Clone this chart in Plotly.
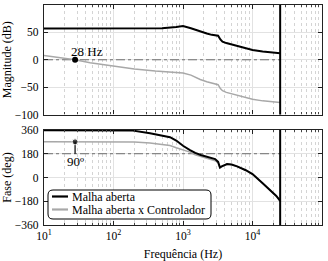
import math
import plotly.graph_objects as go

# ---------------- data ----------------
MAG_FREQ_OL = [10, 100, 300, 500, 800, 1000, 1300, 1770, 2200, 2600, 3000, 3200, 3450, 3700,
               4200, 5300, 7000, 10000, 14000, 20000, 25000]
MAG_OL = [57, 57, 57, 57.5, 60, 61.5, 57.5, 51.5, 48, 45.5, 44.5, 44, 37, 33,
          30.5, 27, 23, 18, 15, 12.5, 12]

MAG_FREQ_CTRL = [10, 20, 28, 46, 100, 200, 400, 700, 1000, 1300, 1770, 2200, 2600, 3000, 3200,
                 3450, 3700, 4200, 5300, 7000, 10000, 14000, 20000, 25000]
MAG_CTRL = [8, 3, 0, -5.5, -12, -17, -20.5, -22.5, -24, -28, -36, -40, -43, -44.5, -45.5,
            -52.5, -56.5, -59.5, -63, -67, -72, -75, -77.5, -78]

PH_FREQ_OL = [10, 100, 190, 335, 500, 650, 800, 1000, 1260, 1500, 1800, 2200, 2900, 3200,
              3400, 3600, 4300, 5000, 6000, 8000, 10000, 14000, 18000, 22000, 25000]
PH_OL = [358, 358, 355, 335, 320, 305, 280, 240, 208, 186, 170, 158, 139, 118,
         76, 84, 102, 98, 84, 55, 26, -44, -95, -140, -178]

PH_FREQ_CTRL = [10, 100, 200, 335, 500, 650, 800, 1000, 1260, 1500, 1800, 2200, 2900, 3200,
                3400, 3600, 4300, 5000, 6000, 8000, 10000, 14000, 18000, 22000, 25000]
PH_CTRL = [270, 269.5, 268, 262, 252, 242, 225, 210, 192, 172, 160, 148, 127, 112,
           72, 81, 100, 97, 84, 55, 26, -44, -95, -140, -178]

REF_FREQ = [10, 25000]
REF_MAG = [0, 0]
REF_PH = [180, 180]
NYQ = 25000
CROSS_FREQ = 28
CROSS_MAG = 0
PM_FREQ = [28, 28]
PM_PH = [180, 270]

NAMES = ["Malha aberta", "Malha aberta x Controlador"]
X_TICKS = [10, 100, 1000, 10000, 100000]
X_TICKTEXT = ["10<sup>1</sup>", "10<sup>2</sup>", "10<sup>3</sup>", "10<sup>4</sup>", "10<sup>5</sup>"]
MAG_TICKS = [-100, -50, 0, 50, 100]
PH_TICKS = [-360, -180, 0, 180, 360]

# ---------------- figure ----------------
FONT = "Liberation Serif"
BLACK = "#000000"
GRAY = "#a8a8a8"
REF = "#6e6e6e"

fig = go.Figure()

# magnitude
fig.add_trace(go.Scatter(x=REF_FREQ, y=REF_MAG, mode="lines", line=dict(color=REF, width=1, dash="dashdot"),
                         showlegend=False, hoverinfo="skip", xaxis="x", yaxis="y"))
fig.add_trace(go.Scatter(x=MAG_FREQ_CTRL, y=MAG_CTRL, mode="lines", name=NAMES[1], line=dict(color=GRAY, width=1.5),
                         showlegend=False, xaxis="x", yaxis="y"))
fig.add_trace(go.Scatter(x=MAG_FREQ_OL, y=MAG_OL, mode="lines", name=NAMES[0], line=dict(color=BLACK, width=2),
                         showlegend=False, xaxis="x", yaxis="y"))
fig.add_trace(go.Scatter(x=[CROSS_FREQ], y=[CROSS_MAG], mode="markers", marker=dict(color=BLACK, size=6),
                         showlegend=False, xaxis="x", yaxis="y"))

# phase
fig.add_trace(go.Scatter(x=REF_FREQ, y=REF_PH, mode="lines", line=dict(color=REF, width=1, dash="dashdot"),
                         showlegend=False, hoverinfo="skip", xaxis="x2", yaxis="y2"))
fig.add_trace(go.Scatter(x=PH_FREQ_CTRL, y=PH_CTRL, mode="lines", name=NAMES[1], line=dict(color=GRAY, width=1.5),
                         showlegend=False, xaxis="x2", yaxis="y2"))
fig.add_trace(go.Scatter(x=PH_FREQ_OL, y=PH_OL, mode="lines", name=NAMES[0], line=dict(color=BLACK, width=2),
                         showlegend=False, xaxis="x2", yaxis="y2"))
fig.add_trace(go.Scatter(x=PM_FREQ, y=PM_PH, mode="lines+markers", line=dict(color=BLACK, width=1.2),
                         marker=dict(color=BLACK, size=[0, 6]), showlegend=False, xaxis="x2", yaxis="y2"))

# Nyquist vertical line in both panels
for xr, yr in [("x", "y domain"), ("x2", "y2 domain")]:
    fig.add_shape(type="line", xref=xr, yref=yr, x0=NYQ, x1=NYQ, y0=0, y1=1,
                  line=dict(color=BLACK, width=2))

MINOR_VALS = [m * 10 ** k for k in range(1, 5) for m in range(2, 10)]

def xaxis_common():
    return dict(type="log", range=[1, 5], showline=True, linecolor="#222", linewidth=1.3, mirror="ticks",
                ticks="inside", ticklen=4, tickcolor="#222", tickmode="array", tickvals=X_TICKS,
                showgrid=True, gridcolor="#e2e2e2", gridwidth=1, zeroline=False, automargin=False,
                minor=dict(tickmode="array", tickvals=MINOR_VALS, ticks="inside", ticklen=2, tickcolor="#444",
                           showgrid=True, gridcolor="#d4d4d4", griddash="dot", gridwidth=1),
                tickfont=dict(family=FONT, size=11.5, color=BLACK))

def yaxis_common():
    return dict(showline=True, linecolor="#222", linewidth=1.3, mirror="ticks", ticks="inside", ticklen=4,
                tickcolor="#222", showgrid=True, gridcolor="#e2e2e2", zeroline=False, tickmode="array",
                automargin=False, tickfont=dict(family=FONT, size=11.5, color=BLACK), ticklabelstandoff=2)

xa = xaxis_common()
xa.update(anchor="y", domain=[0, 1], showticklabels=False)
xa2 = xaxis_common()
xa2.update(anchor="y2", domain=[0, 1], ticktext=X_TICKTEXT, matches="x",
           title=dict(text="Frequência (Hz)", font=dict(family=FONT, size=12, color=BLACK)))
ya = yaxis_common()
ya.update(domain=[0.502, 1], range=[-100, 100], tickvals=MAG_TICKS, anchor="x",
          title=dict(text="Magnitude (dB)", font=dict(family=FONT, size=12, color=BLACK)))
ya2 = yaxis_common()
ya2.update(domain=[0, 0.432], range=[-360, 360], tickvals=PH_TICKS, anchor="x2",
           title=dict(text="Fase (deg)", font=dict(family=FONT, size=12, color=BLACK)))

fig.update_layout(
    width=328, height=261, margin=dict(l=44, r=6, t=5, b=36, autoexpand=False),
    paper_bgcolor="white", plot_bgcolor="white",
    xaxis=xa, xaxis2=xa2, yaxis=ya, yaxis2=ya2,
    showlegend=False,
    font=dict(family=FONT, size=12, color=BLACK),
)

# annotations
fig.add_annotation(x=math.log10(CROSS_FREQ), y=15, xref="x", yref="y", text="28 Hz", showarrow=False,
                   xanchor="left", yanchor="middle", xshift=-6, font=dict(family=FONT, size=13, color=BLACK))
fig.add_annotation(x=math.log10(PM_FREQ[0]), y=124, xref="x2", yref="y2", text="90º", showarrow=False,
                   xanchor="center", yanchor="middle", font=dict(family=FONT, size=13, color=BLACK))

# manual legend (rounded box)
def px(xp):
    return (xp - 44) / 278.0

def py(yp):
    return (225 - yp) / 220.0

x0, x1, y0, y1 = px(48), px(211), py(219), py(190)
rx, ry = 5 / 278.0, 5 / 220.0
path = (f"M {x0+rx},{y0} L {x1-rx},{y0} Q {x1},{y0} {x1},{y0+ry} L {x1},{y1-ry} Q {x1},{y1} {x1-rx},{y1} "
        f"L {x0+rx},{y1} Q {x0},{y1} {x0},{y1-ry} L {x0},{y0+ry} Q {x0},{y0} {x0+rx},{y0} Z")
fig.add_shape(type="path", path=path, xref="paper", yref="paper", fillcolor="white",
              line=dict(color=BLACK, width=1), layer="above")
LEG_ROWS = [(196.5, BLACK, 2.2), (209.5, GRAY, 2.2)]
for (row_y, col, w), name in zip(LEG_ROWS, NAMES):
    fig.add_shape(type="line", xref="paper", yref="paper", x0=px(52), x1=px(68), y0=py(row_y), y1=py(row_y),
                  line=dict(color=col, width=w), layer="above")
    fig.add_annotation(x=px(69.5), y=py(row_y), xref="paper", yref="paper", text=name, showarrow=False,
                       xanchor="left", yanchor="middle", font=dict(family=FONT, size=12, color=BLACK))

fig.write_html("out.html", config={"displayModeBar": False},
               post_script="document.body.style.margin='0';")
